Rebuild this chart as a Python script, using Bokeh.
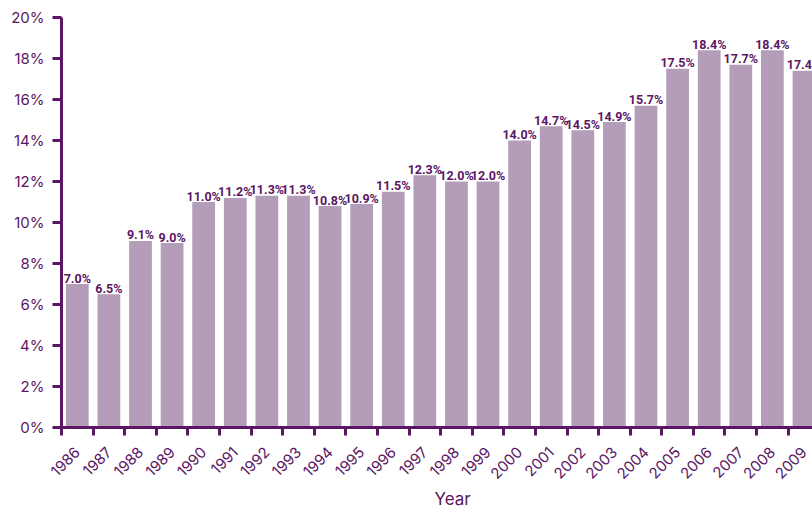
import math
from bokeh.plotting import figure
from bokeh.models import Range1d, FixedTicker, ColumnDataSource, Title
from bokeh.embed import file_html
from bokeh.resources import INLINE
from bokeh.core.properties import value

years = ["1986", "1987", "1988", "1989", "1990", "1991", "1992", "1993",
         "1994", "1995", "1996", "1997", "1998", "1999", "2000", "2001",
         "2002", "2003", "2004", "2005", "2006", "2007", "2008", "2009"]
shares = [7.0, 6.5, 9.1, 9.0, 11.0, 11.2, 11.3, 11.3, 10.8, 10.9, 11.5, 12.3,
          12.0, 12.0, 14.0, 14.7, 14.5, 14.9, 15.7, 17.5, 18.4, 17.7, 18.4, 17.4]
y_ticks = [0, 2, 4, 6, 8, 10, 12, 14, 16, 18, 20]

DARK = "#5b1664"
BAR = "#b39db9"
FONT = "Inter"
VALUE_FONT = "Roboto"

centers = [i + 0.5 for i in range(len(years))]
bounds = list(range(len(years) + 1))
src = ColumnDataSource(dict(x=centers, top=shares,
                            label=[f"{v:.1f}%" for v in shares]))

p = figure(width=812, height=508, output_backend="svg", toolbar_location=None,
           x_range=Range1d(0, 23.77), y_range=Range1d(0, 20),
           min_border_left=61, min_border_top=17,
           min_border_right=0, min_border_bottom=81)
p.outline_line_color = None
p.grid.visible = False

p.vbar(x="x", top="top", width=0.72, bottom=0, source=src,
       fill_color=BAR, line_color=None)
p.text(x="x", y="top", text="label", source=src, y_offset=-6,
       text_align="center", text_baseline="alphabetic",
       text_font=value(VALUE_FONT), text_font_size="12.5px",
       text_font_style="bold", text_color=DARK)

# y axis
ya = p.yaxis[0]
ya.ticker = FixedTicker(ticks=y_ticks)
ya.major_label_overrides = {t: f"{t}%" for t in y_ticks}
ya.axis_line_color = DARK
ya.axis_line_width = 3
ya.major_tick_line_color = DARK
ya.major_tick_line_width = 3
ya.major_tick_out = 9
ya.major_tick_in = 0
ya.minor_tick_line_color = None
ya.major_label_text_color = DARK
ya.major_label_text_font = FONT
ya.major_label_text_font_size = "15px"
ya.major_label_standoff = 8

# x axis: year labels at bar centres, tick marks on the bar boundaries
xa = p.xaxis[0]
xa.ticker = FixedTicker(ticks=centers, minor_ticks=bounds)
xa.major_label_overrides = {c: y for c, y in zip(centers, years)}
xa.major_label_orientation = math.pi / 4
xa.major_label_text_color = DARK
xa.major_label_text_font = FONT
xa.major_label_text_font_size = "15px"
xa.major_label_standoff = 14
xa.axis_line_color = DARK
xa.axis_line_width = 3
xa.major_tick_line_color = None
xa.major_tick_out = 0
xa.major_tick_in = 0
xa.minor_tick_line_color = DARK
xa.minor_tick_line_width = 3
xa.minor_tick_out = 8
xa.minor_tick_in = 0

p.add_layout(Title(text="Year", align="left", offset=373, standoff=0,
                   text_color=DARK, text_font=FONT, text_font_size="17px",
                   text_font_style="normal"), "below")

open("out.html", "w").write(file_html(p, INLINE))
